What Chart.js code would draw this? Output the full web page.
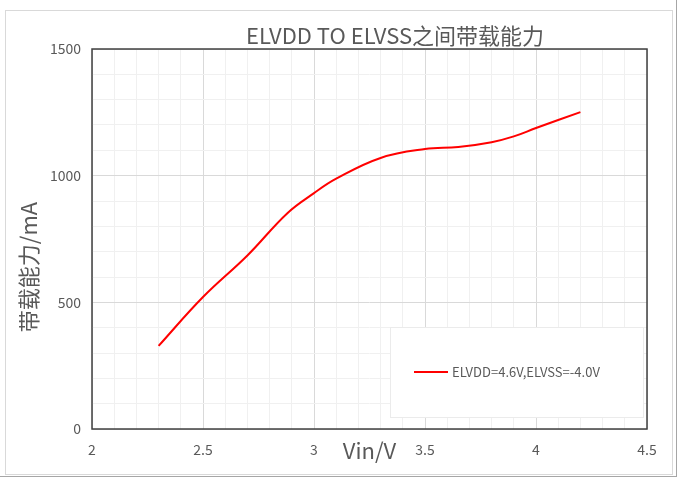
<!DOCTYPE html>
<html>
<head>
<meta charset="utf-8">
<script src="https://cdn.jsdelivr.net/npm/chart.js@4/dist/chart.umd.min.js"></script>
<style>
  html, body { margin: 0; padding: 0; background: #fff; }
  #wrap { position: relative; width: 681px; height: 485px; overflow: hidden; }
  #outer { position: absolute; left: 0; top: 0; width: 676px; height: 476px;
           border-right: 1px solid #a6a6a6; border-bottom: 1px solid #a6a6a6; }
  #frame { position: absolute; left: 5px; top: 10px; width: 666px; height: 463px;
           border: 1px solid #d9d9d9; }
  canvas { position: absolute; left: 0; top: 0; }
</style>
</head>
<body>
<div id="wrap">
  <div id="outer"></div>
  <div id="frame"></div>
  <canvas id="loadChart" width="681" height="485"></canvas>
</div>
<script>
// ELVDD TO ELVSS 之间带载能力
const vin = [2.3, 2.5, 2.7, 2.88, 3.0, 3.1, 3.3, 3.5, 3.65, 3.8, 3.9, 4.0, 4.2];
const current = [328, 521, 685, 852, 931, 988, 1070, 1105, 1113, 1132, 1155, 1188, 1251];
const seriesName = "ELVDD=4.6V,ELVSS=-4.0V";
const xTitle = "Vin/V";
const yTitle = "带载能力/mA";
const chartTitle = "ELVDD TO ELVSS之间带载能力";

const FONT = "'Noto Sans CJK SC', 'Noto Sans', sans-serif";
const TEXT = "#595959";

const isMajor = (v, step) => Math.abs(v / step - Math.round(v / step)) < 1e-6;

// 标题 + 图内图例 + 纵轴标题 + 绘图区边框
const extras = {
  id: "extras",
  afterDraw(chart) {
    const { ctx, chartArea: a } = chart;
    ctx.save();
    ctx.strokeStyle = "#404040";
    ctx.lineWidth = 1.5;
    ctx.strokeRect(a.left, a.top, a.right - a.left, a.bottom - a.top);

    ctx.fillStyle = TEXT;
    ctx.textAlign = "center";
    ctx.textBaseline = "middle";
    ctx.font = "22px " + FONT;
    ctx.fillText(chartTitle, 395, 36);

    // legend box
    ctx.fillStyle = "#fff";
    ctx.fillRect(390, 327, 254, 91);
    ctx.strokeStyle = "#ebebeb";
    ctx.lineWidth = 1;
    ctx.strokeRect(390.5, 327.5, 253, 90);
    const ds = chart.data.datasets[0];
    ctx.strokeStyle = ds.borderColor;
    ctx.lineWidth = 2;
    ctx.beginPath();
    ctx.moveTo(414, 372);
    ctx.lineTo(448, 372);
    ctx.stroke();
    ctx.fillStyle = TEXT;
    ctx.textAlign = "left";
    ctx.font = "13px " + FONT;
    ctx.fillText(ds.label, 452, 372);

    // y axis title
    ctx.translate(29, 267);
    ctx.rotate(-Math.PI / 2);
    ctx.textAlign = "center";
    ctx.font = "22px " + FONT;
    ctx.fillText(yTitle, 0, 0);
    ctx.restore();
  }
};

const ctx = document.getElementById("loadChart").getContext("2d");
new Chart(ctx, {
  type: "line",
  data: {
    datasets: [{
      label: seriesName,
      data: vin.map((v, i) => ({ x: v, y: current[i] })),
      borderColor: "#ff0000",
      borderWidth: 2,
      pointRadius: 0,
      fill: false,
      tension: 0.4
    }]
  },
  options: {
    responsive: false,
    animation: false,
    layout: { padding: { left: 0, right: 34, top: 49, bottom: 0 } },
    scales: {
      x: {
        type: "linear",
        min: 2,
        max: 4.5,
        afterFit: s => { s.height = 56; },
        afterBuildTicks: s => {
          s.ticks = [];
          for (let i = 0; i <= 25; i++) s.ticks.push({ value: 2 + i * 0.1 });
        },
        ticks: {
          autoSkip: false,
          maxRotation: 0,
          padding: 12,
          color: TEXT,
          font: { family: FONT, size: 14 },
          callback: v => isMajor(v, 0.5) ? String(Math.round(v * 10) / 10) : ""
        },
        grid: {
          drawTicks: false,
          color: c => isMajor(c.tick.value, 0.5) ? "#d9d9d9" : "#f0f0f0",
          lineWidth: 1
        },
        border: { display: false },
        title: {
          display: true,
          text: xTitle,
          color: TEXT,
          font: { family: FONT, size: 22 },
          padding: { top: 0, bottom: 21 }
        }
      },
      y: {
        min: 0,
        max: 1500,
        afterFit: s => { s.width = 92; },
        ticks: {
          stepSize: 100,
          autoSkip: false,
          padding: 11,
          color: TEXT,
          font: { family: FONT, size: 14 },
          callback: v => isMajor(v, 500) ? String(v) : ""
        },
        grid: {
          drawTicks: false,
          color: c => isMajor(c.tick.value, 500) ? "#d9d9d9" : "#f0f0f0",
          lineWidth: 1
        },
        border: { display: false }
      }
    },
    plugins: {
      legend: { display: false },
      tooltip: { enabled: false },
      title: { display: false }
    }
  },
  plugins: [extras]
});
</script>
</body>
</html>
